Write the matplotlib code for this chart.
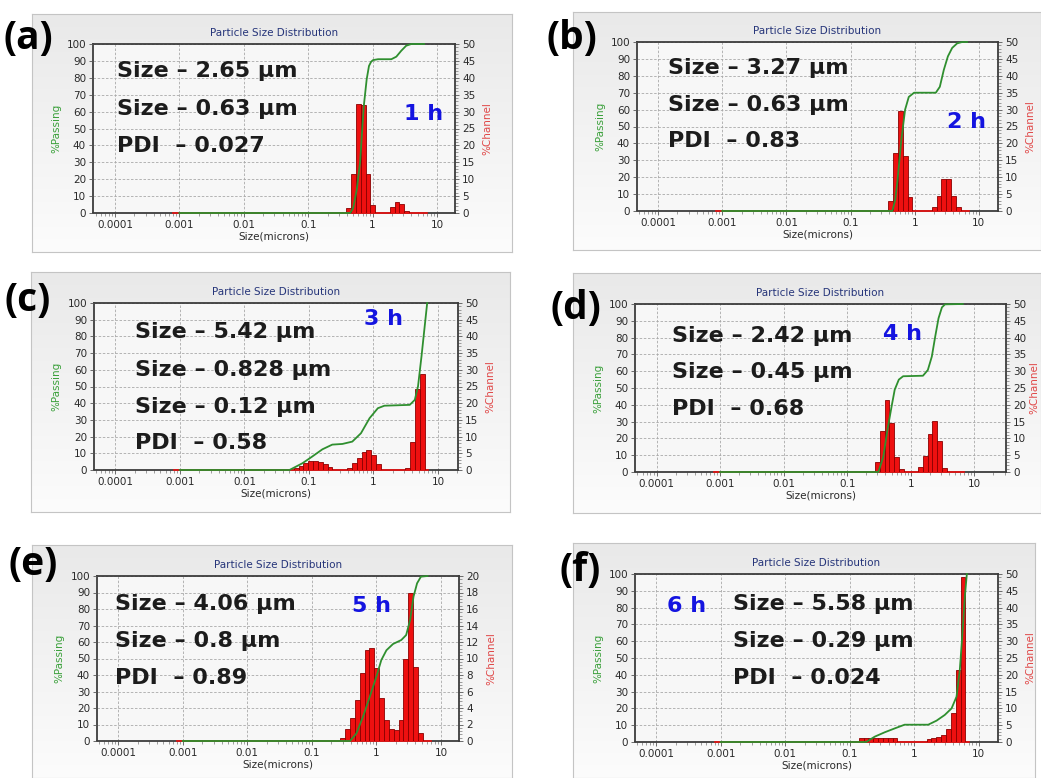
import matplotlib.pyplot as plt
import numpy as np
from matplotlib.colors import LinearSegmentedColormap
from matplotlib.ticker import LogLocator, NullFormatter, MultipleLocator

W, H = 1041, 778

# Microtrac channel edges (microns); each bar spans one channel to the next
CHANNELS = [0.058, 0.069, 0.082, 0.097, 0.116, 0.138, 0.164, 0.195, 0.231, 0.275,
            0.327, 0.389, 0.463, 0.550, 0.654, 0.778, 0.925, 1.100, 1.308, 1.555,
            1.850, 2.200, 2.616, 3.111, 3.700, 4.400, 5.232, 6.222, 7.400]
CHANNEL_SPAN = [0.0008, 7.0]  # red %Channel baseline drawn by the instrument

XTICKS = [0.0001, 0.001, 0.01, 0.1, 1, 10]
XTICK_LABELS = ['0.0001', '0.001', '0.01', '0.1', '1', '10']

# (a) 1 h
a_bins = [0.389, 0.463, 0.550, 0.654, 0.778, 0.925, 1.850, 2.200, 2.616, 3.111]
a_chan = [1.4, 11.4, 32.2, 31.9, 11.4, 2.4, 1.7, 3.4, 2.8, 0.6]
a_size = [0.001, 0.45, 0.50, 0.57, 0.64, 0.73, 0.81, 0.88, 0.95, 1.02, 1.22, 1.96, 2.34, 2.79, 3.33, 4.0, 6.3]
a_pass = [0, 0, 3, 14, 30, 63, 79, 87, 89.5, 90.5, 91, 91, 92.5, 96, 99, 100, 100]
a_text = ['Size – 2.65 µm', 'Size – 0.63 µm', 'PDI  – 0.027']

# (b) 2 h
b_bins = [0.389, 0.463, 0.550, 0.654, 0.778, 1.850, 2.200, 2.616, 3.111, 3.700, 4.400]
b_chan = [3.0, 17.3, 29.6, 16.4, 4.0, 1.1, 4.4, 9.5, 9.5, 4.4, 1.3]
b_size = [0.001, 0.45, 0.50, 0.54, 0.62, 0.71, 0.81, 0.98, 2.14, 2.47, 2.85, 3.3, 3.85, 4.6, 5.5, 6.6]
b_pass = [0, 0, 7, 18, 42, 60, 67.5, 70, 70, 73.5, 83.5, 91.5, 96.5, 99.2, 100, 100]
b_text = ['Size – 3.27 µm', 'Size – 0.63 µm', 'PDI  – 0.83']

# (c) 3 h
c_bins = [0.058, 0.069, 0.082, 0.097, 0.116, 0.138, 0.164, 0.195,
          0.389, 0.463, 0.550, 0.654, 0.778, 0.925, 1.100,
          3.111, 3.700, 4.400, 5.232]
c_chan = [0.5, 1.3, 2.0, 2.7, 2.8, 2.5, 1.8, 1.0,
          0.5, 2.0, 3.5, 5.3, 6.0, 4.6, 1.8,
          0.5, 8.3, 24.2, 28.7]
c_size = [0.001, 0.05, 0.079, 0.112, 0.162, 0.23, 0.33, 0.47, 0.64, 0.87, 1.17, 1.48, 3.65, 4.37, 4.9, 5.55, 6.3, 6.8]
c_pass = [0, 0, 4, 8, 12.4, 15.2, 15.6, 17, 22, 31, 37, 38.5, 39, 42, 50, 68, 88, 100]
c_text = ['Size – 5.42 µm', 'Size – 0.828 µm', 'Size – 0.12 µm', 'PDI  – 0.58']

# (d) 4 h
d_bins = [0.275, 0.327, 0.389, 0.463, 0.550, 0.654, 1.308, 1.555, 1.850, 2.200, 2.616, 3.111]
d_chan = [3.1, 12.3, 21.4, 14.5, 4.6, 0.8, 1.6, 4.9, 11.2, 15.2, 9.2, 1.1]
d_size = [0.001, 0.31, 0.37, 0.43, 0.50, 0.56, 0.65, 0.76, 1.56, 1.86, 2.15, 2.43, 2.74, 3.1, 3.47, 6.6]
d_pass = [0, 0, 9, 25, 39, 49, 55, 57, 57.3, 60.7, 68.7, 80.6, 91.5, 98, 99.8, 100]
d_text = ['Size – 2.42 µm', 'Size – 0.45 µm', 'PDI  – 0.68']

# (e) 5 h
e_bins = [0.275, 0.327, 0.389, 0.463, 0.550, 0.654, 0.778, 0.925, 1.100, 1.308,
          1.555, 1.850, 2.200, 2.616, 3.111, 3.700, 4.400]
e_chan = [0.4, 1.5, 2.8, 5.0, 8.2, 11.0, 11.3, 8.8, 5.2, 2.5, 1.4, 1.3, 2.5, 10.0, 18.0, 9.0, 1.0]
e_size = [0.001, 0.39, 0.49, 0.62, 0.79, 1.0, 1.19, 1.43, 1.81, 2.43, 2.89, 3.33, 3.76, 4.27, 4.9, 6.2]
e_pass = [0, 0, 4.6, 14.7, 26.9, 39, 49, 55, 58.8, 61.2, 64.2, 73.3, 87.5, 95.6, 99.6, 100]
e_text = ['Size – 4.06 µm', 'Size – 0.8 µm', 'PDI  – 0.89']

# (f) 6 h
f_bins = [0.138, 0.164, 0.195, 0.231, 0.275, 0.327, 0.389, 0.463,
          1.555, 1.850, 2.200, 2.616, 3.111, 3.700, 4.400, 5.232]
f_chan = [1.2, 1.3, 1.3, 1.3, 1.3, 1.3, 1.3, 1.2,
          1.0, 1.3, 1.6, 2.1, 3.9, 8.5, 21.4, 49.2]
f_size = [0.001, 0.18, 0.245, 0.35, 0.50, 0.71, 1.65, 2.22, 2.98, 3.8, 4.54, 5.1, 5.56, 6.1, 6.56]
f_pass = [0, 0, 3.2, 5.8, 8.1, 10.3, 10.3, 12.7, 16.1, 20, 27, 42.9, 62.7, 86.5, 100]
f_text = ['Size – 5.58 µm', 'Size – 0.29 µm', 'PDI  – 0.024']

panels = [
    dict(tag='(a)', hour='1 h', bins=a_bins, chan=a_chan, size=a_size, pas=a_pass, text=a_text, cmax=50, cstep=5,
         box=(32, 14, 512, 252), ax=(93, 44, 455, 213), xlog=(-4.34, 1.28), tagxy=(28, 38),
         hourxy=(404, 120), tx=117, ty=[77, 115, 152], rpad=5),
    dict(tag='(b)', hour='2 h', bins=b_bins, chan=b_chan, size=b_size, pas=b_pass, text=b_text, cmax=50, cstep=5,
         box=(573, 12, 1041, 250), ax=(637, 42, 998, 211), xlog=(-4.33, 1.30), tagxy=(572, 39),
         hourxy=(947, 128), tx=668, ty=[74, 111, 147], rpad=5),
    dict(tag='(c)', hour='3 h', bins=c_bins, chan=c_chan, size=c_size, pas=c_pass, text=c_text, cmax=50, cstep=5,
         box=(31, 272, 510, 512), ax=(94, 303, 458, 470), xlog=(-4.33, 1.31), tagxy=(28, 300),
         hourxy=(364, 325), tx=135, ty=[338, 376, 413, 449], rpad=5),
    dict(tag='(d)', hour='4 h', bins=d_bins, chan=d_chan, size=d_size, pas=d_pass, text=d_text, cmax=50, cstep=5,
         box=(573, 273, 1041, 513), ax=(635, 304, 1006, 472), xlog=(-4.34, 1.50), tagxy=(576, 308),
         hourxy=(883, 340), tx=672, ty=[342, 378, 415], rpad=2),
    dict(tag='(e)', hour='5 h', bins=e_bins, chan=e_chan, size=e_size, pas=e_pass, text=e_text, cmax=20, cstep=2,
         box=(32, 545, 512, 778), ax=(97, 576, 459, 741), xlog=(-4.33, 1.28), tagxy=(33, 565),
         hourxy=(352, 612), tx=115, ty=[610, 647, 684], rpad=5),
    dict(tag='(f)', hour='6 h', bins=f_bins, chan=f_chan, size=f_size, pas=f_pass, text=f_text, cmax=50, cstep=5,
         box=(573, 543, 1035, 778), ax=(635, 574, 998, 742), xlog=(-4.33, 1.30), tagxy=(580, 570),
         hourxy=(667, 612), tx=733, ty=[610, 647, 684], rpad=5),
]


def rect(x0, y0, x1, y1):
    return [x0 / W, 1 - y1 / H, (x1 - x0) / W, (y1 - y0) / H]


TAG_FONT = ['Open Sans', 'DejaVu Sans']
NOTE_FONT = ['DejaVu Sans']
TICK_COLOR = '#2a2a2a'
GREEN = '#2f8f2f'
RED = '#ee1010'

fig = plt.figure(figsize=(W / 100, H / 100), dpi=100)
fig.patch.set_facecolor('white')
shade = LinearSegmentedColormap.from_list('shade', ['#e9e9e9', '#fcfcfc'])

for p in panels:
    # screenshot background with its soft vertical gradient
    bg = fig.add_axes(rect(*p['box']))
    bg.set_zorder(-5)
    bg.imshow(np.linspace(0, 1, 256).reshape(-1, 1), aspect='auto', cmap=shade,
              extent=(0, 1, 0, 1))
    bg.set_xticks([])
    bg.set_yticks([])
    for s in bg.spines.values():
        s.set_color('#c4c4c4')
        s.set_linewidth(0.8)

    ax = fig.add_axes(rect(*p['ax']))       # %Channel (drawn underneath)
    axp = ax.twinx()                         # %Passing (on top)
    ax.set_facecolor('#f7f7f7')
    ax.set_xscale('log')
    ax.set_xlim(10 ** p['xlog'][0], 10 ** p['xlog'][1])
    ax.set_ylim(0, p['cmax'])
    axp.set_ylim(0, 100)

    widths = [CHANNELS[CHANNELS.index(b) + 1] - b for b in p['bins']]
    ax.plot(CHANNEL_SPAN, [0, 0], color=RED, lw=1.2, zorder=2.7, clip_on=False)
    ax.bar(p['bins'], p['chan'], width=widths, align='edge', color=RED,
           edgecolor='#8a0000', linewidth=0.6, zorder=3)
    axp.plot(p['size'], p['pas'], color=GREEN, lw=1.3, zorder=4, clip_on=False)

    # axes sides: passing on the left, channel on the right
    axp.yaxis.tick_left()
    axp.yaxis.set_label_position('left')
    ax.yaxis.tick_right()
    ax.yaxis.set_label_position('right')

    ax.set_xticks(XTICKS)
    ax.set_xticklabels(XTICK_LABELS)
    ax.xaxis.set_minor_locator(LogLocator(base=10, subs=np.arange(2, 10), numticks=20))
    ax.xaxis.set_minor_formatter(NullFormatter())
    ax.yaxis.set_major_locator(MultipleLocator(p['cstep']))
    ax.yaxis.set_minor_locator(MultipleLocator(p['cstep'] / 5))
    axp.yaxis.set_major_locator(MultipleLocator(10))

    ax.grid(True, which='major', linestyle=(0, (3, 2)), color='#a9a9a9', linewidth=0.6)
    ax.set_axisbelow(True)

    for a in (ax, axp):
        a.tick_params(axis='both', which='major', labelsize=7.5, labelcolor=TICK_COLOR,
                      color='#555555', length=3, width=0.6, pad=2)
        a.tick_params(axis='both', which='minor', color='#777777', length=1.8, width=0.5)
    for s in ax.spines.values():
        s.set_color('#3c3c3c')
        s.set_linewidth(1.3)
    for s in axp.spines.values():
        s.set_visible(False)

    axp.set_ylabel('%Passing', fontsize=7.5, color='#3aa03a', labelpad=4)
    ax.set_ylabel('%Channel', fontsize=7.5, color='#e04848', labelpad=p['rpad'])
    ax.set_xlabel('Size(microns)', fontsize=7.5, color=TICK_COLOR, labelpad=1)
    ax.set_title('Particle Size Distribution', fontsize=7.5, color='#26357a', pad=6)

    # annotations
    fig.text(p['tagxy'][0] / W, 1 - p['tagxy'][1] / H, p['tag'], fontsize=28,
             fontweight='bold', family=TAG_FONT, ha='center', va='center', color='black')
    fig.text(p['hourxy'][0] / W, 1 - p['hourxy'][1] / H, p['hour'], fontsize=16,
             fontweight='bold', family=NOTE_FONT, ha='left', va='baseline', color='#1414e0')
    for line, y in zip(p['text'], p['ty']):
        fig.text(p['tx'] / W, 1 - y / H, line, fontsize=16, fontweight='bold',
                 family=NOTE_FONT, ha='left', va='baseline', color='#1c1c1c')

fig.savefig('out.png', dpi=100)
